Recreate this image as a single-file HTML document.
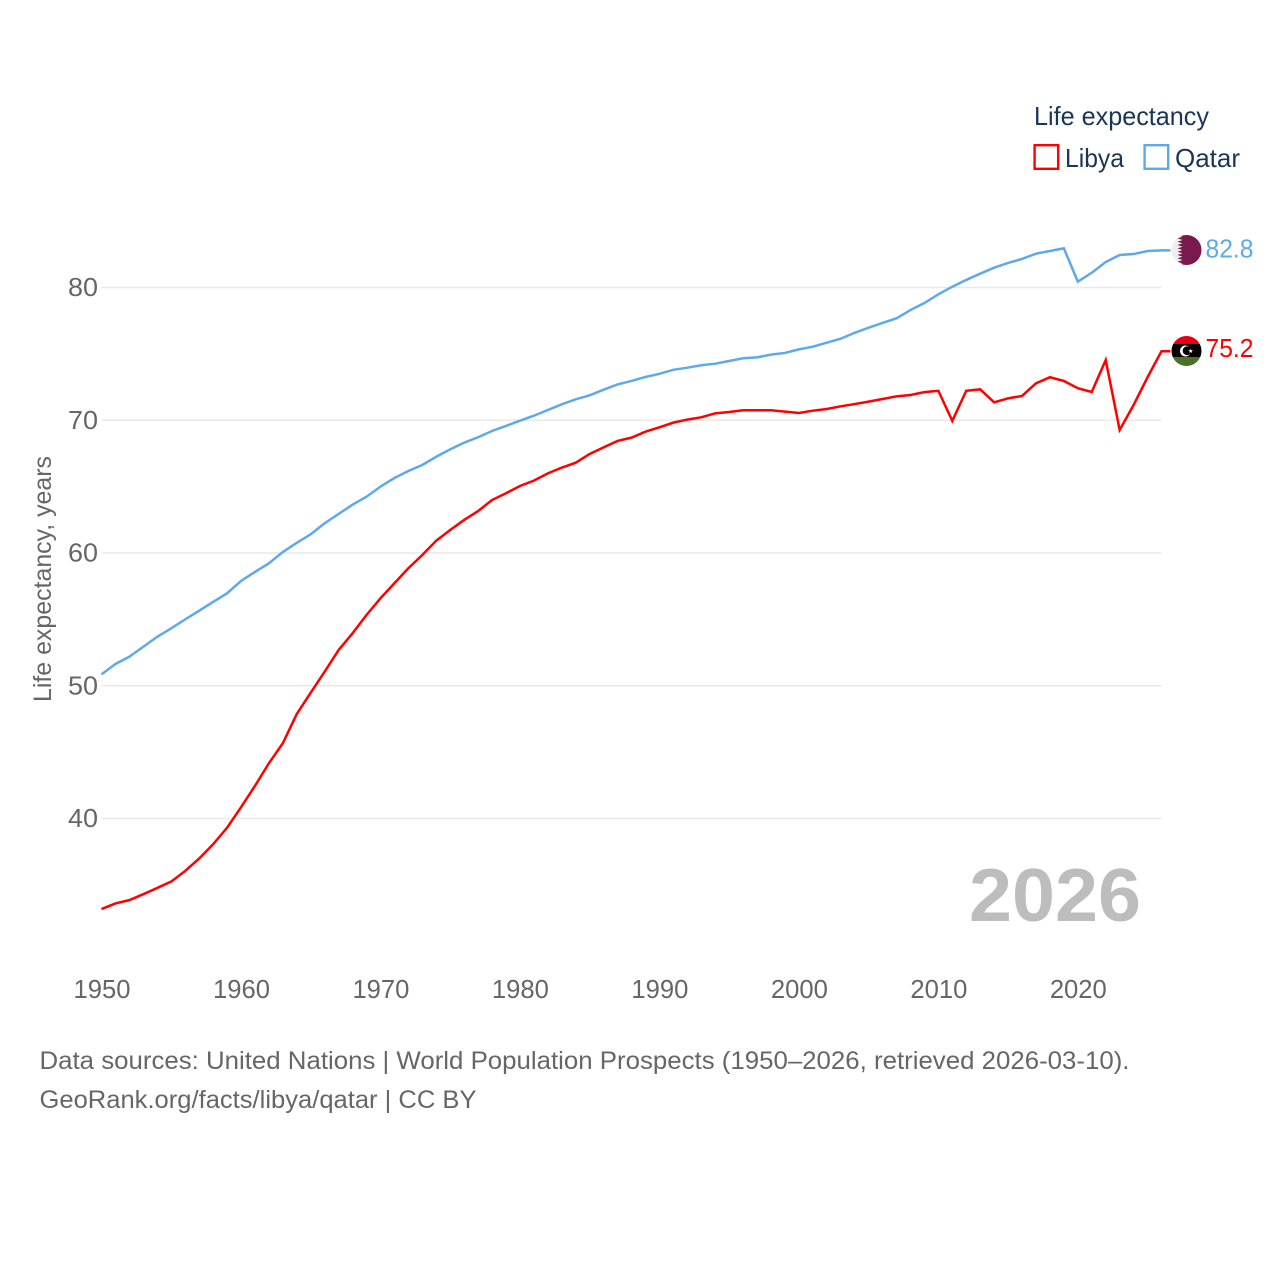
<!DOCTYPE html>
<html lang="en">
<head>
<meta charset="utf-8">
<title>Life expectancy: Libya and Qatar</title>
<style>
html,body{margin:0;padding:0;background:#fff;}
body{width:1280px;height:1280px;overflow:hidden;}
svg{display:block;font-family:"Liberation Sans",sans-serif;}
.tick{font-size:26px;fill:#666;}
</style>
</head>
<body>
<svg id="chart" width="1280" height="1280" viewBox="0 0 1280 1280" xmlns="http://www.w3.org/2000/svg">
  <defs>
    <clipPath id="clip-qatar"><circle cx="1186.5" cy="250" r="15"/></clipPath>
    <clipPath id="clip-libya"><circle cx="1186.5" cy="351" r="15"/></clipPath>
  </defs>
  <g id="grid"></g>
  <g id="y-ticks"></g>
  <g id="x-ticks"></g>
  <text transform="translate(51,702) rotate(-90)" font-size="25" fill="#666" textLength="246" lengthAdjust="spacingAndGlyphs">Life expectancy, years</text>
  <g id="series"></g>

  <text x="969" y="921" font-size="75" font-weight="700" fill="#bdbdbd" textLength="172" lengthAdjust="spacingAndGlyphs">2026</text>

  <g>
    <text x="1034" y="125" font-size="26" fill="#1a3555" textLength="175" lengthAdjust="spacingAndGlyphs">Life expectancy</text>
    <rect x="1034.6" y="145.2" width="23.6" height="23.6" fill="#fff" stroke="#ff0000" stroke-width="2.4"/>
    <text x="1065" y="167" font-size="26" fill="#1a3555" textLength="59" lengthAdjust="spacingAndGlyphs">Libya</text>
    <rect x="1144.6" y="145.2" width="23.6" height="23.6" fill="#fff" stroke="#5ea8ec" stroke-width="2.4"/>
    <text x="1175" y="167" font-size="26" fill="#1a3555" textLength="65" lengthAdjust="spacingAndGlyphs">Qatar</text>
  </g>

  <g clip-path="url(#clip-qatar)">
    <rect x="1171" y="235" width="31" height="30" fill="#eeeeee"/>
    <polygon fill="#7a1a4c" points="1202,235 1177.500,235 1182.500,236.700 1177.500,238.400 1182.500,240 1177.500,241.700 1182.500,243.400 1177.500,245 1182.500,246.700 1177.500,248.400 1182.500,250 1177.500,251.700 1182.500,253.400 1177.500,255 1182.500,256.700 1177.500,258.400 1182.500,260 1177.500,261.700 1182.500,263.400 1177.500,265 1202,265"/>
  </g>
  <g clip-path="url(#clip-libya)">
    <rect x="1171" y="336" width="31" height="8.500" fill="#e70013"/>
    <rect x="1171" y="344" width="31" height="13.500" fill="#000"/>
    <rect x="1171" y="357" width="31" height="10" fill="#4b7029"/>
    <circle cx="1185.500" cy="351" r="5.500" fill="#fff"/>
    <circle cx="1187.200" cy="350.700" r="4.500" fill="#000"/>
    <polygon fill="#fff" points="1190.700,348.600 1191.300,350.300 1193,350.300 1191.700,351.400 1192.200,353 1190.700,352 1189.200,353 1189.700,351.400 1188.400,350.300 1190.100,350.300"/>
  </g>
  <g id="end-labels"></g>

  <text x="39.500" y="1069" font-size="25" fill="#666" textLength="1090" lengthAdjust="spacingAndGlyphs">Data sources: United Nations | World Population Prospects (1950–2026, retrieved 2026-03-10).</text>
  <text x="39.500" y="1108" font-size="25" fill="#666" textLength="437" lengthAdjust="spacingAndGlyphs">GeoRank.org/facts/libya/qatar | CC BY</text>
</svg>
<script>
const years = [1950,1951,1952,1953,1954,1955,1956,1957,1958,1959,1960,1961,1962,1963,1964,1965,1966,1967,1968,1969,1970,1971,1972,1973,1974,1975,1976,1977,1978,1979,1980,1981,1982,1983,1984,1985,1986,1987,1988,1989,1990,1991,1992,1993,1994,1995,1996,1997,1998,1999,2000,2001,2002,2003,2004,2005,2006,2007,2008,2009,2010,2011,2012,2013,2014,2015,2016,2017,2018,2019,2020,2021,2022,2023,2024,2025,2026];
const libya = [33.18,33.6,33.85,34.3,34.77,35.25,36.05,36.98,38.06,39.3,40.84,42.45,44.16,45.67,47.87,49.48,51.06,52.69,53.95,55.33,56.59,57.72,58.85,59.85,60.93,61.73,62.49,63.16,63.99,64.5,65.05,65.45,66.0,66.43,66.8,67.46,67.96,68.44,68.69,69.14,69.47,69.82,70.05,70.22,70.52,70.62,70.75,70.75,70.75,70.65,70.55,70.72,70.85,71.05,71.22,71.4,71.6,71.8,71.9,72.12,72.22,69.95,72.22,72.33,71.35,71.65,71.83,72.78,73.24,72.96,72.41,72.13,74.54,69.27,71.15,73.24,75.2];
const qatar = [50.86,51.64,52.19,52.94,53.69,54.33,55.0,55.65,56.31,56.96,57.89,58.57,59.22,60.07,60.77,61.41,62.24,62.94,63.64,64.24,65.0,65.65,66.18,66.63,67.25,67.81,68.31,68.72,69.19,69.57,69.97,70.34,70.77,71.2,71.58,71.88,72.3,72.7,72.96,73.26,73.5,73.8,73.96,74.14,74.26,74.46,74.67,74.74,74.94,75.07,75.34,75.54,75.84,76.14,76.59,76.97,77.33,77.68,78.3,78.83,79.49,80.06,80.57,81.04,81.49,81.85,82.15,82.55,82.75,82.95,80.44,81.11,81.92,82.45,82.52,82.75,82.8];
const yTickValues = [40,50,60,70,80];
const xTickValues = [1950,1960,1970,1980,1990,2000,2010,2020];

const NS = 'http://www.w3.org/2000/svg';
const X_LEFT = 101.5, X_RIGHT = 1161.5, Y_40 = 818.5, Y_80 = 287.5;
const xScale = function (year) {
  return X_LEFT + (year - years[0]) * (X_RIGHT - X_LEFT) / (years[years.length - 1] - years[0]);
};
const yScale = function (value) {
  return Y_40 - (value - 40) * (Y_40 - Y_80) / 40;
};
function make(tag, attrs) {
  const el = document.createElementNS(NS, tag);
  Object.keys(attrs).forEach(function (k) { el.setAttribute(k, attrs[k]); });
  return el;
}

const gridGroup = document.getElementById('grid');
const yTickGroup = document.getElementById('y-ticks');
yTickValues.forEach(function (v) {
  const line = make('line', {x1: X_LEFT, x2: X_RIGHT, y1: yScale(v), y2: yScale(v), stroke: '#e9e9e9', 'stroke-width': 1.5});
  
  
  gridGroup.appendChild(line);
  const label = make('text', {x: 98, y: yScale(v) + 8.5, 'text-anchor': 'end', class: 'tick', textLength: 30, lengthAdjust: 'spacingAndGlyphs'});
  
  
  label.textContent = v;
  yTickGroup.appendChild(label);
});

const xTickGroup = document.getElementById('x-ticks');
xTickValues.forEach(function (year) {
  const label = make('text', {x: xScale(year) - 28, y: 998, class: 'tick', textLength: 57, lengthAdjust: 'spacingAndGlyphs'});
  
  
  label.textContent = year;
  xTickGroup.appendChild(label);
});

function seriesPath(values) {
  let d = values.map(function (v, i) {
    return (i ? 'L' : 'M') + xScale(years[i]).toFixed(2) + ' ' + yScale(v).toFixed(2);
  }).join(' ');
  d += ' L' + (xScale(years[years.length - 1]) + 9).toFixed(2) + ' ' + yScale(values[values.length - 1]).toFixed(2);
  return d;
}

const seriesGroup = document.getElementById('series');
const qatarLine = make('path', {d: seriesPath(qatar), fill: 'none', stroke: '#5ea8ec', 'stroke-width': 2.5, 'stroke-linejoin': 'miter'});


seriesGroup.appendChild(qatarLine);
const libyaLine = make('path', {d: seriesPath(libya), fill: 'none', stroke: '#ff0000', 'stroke-width': 2.5, 'stroke-linejoin': 'miter'});


seriesGroup.appendChild(libyaLine);

const endGroup = document.getElementById('end-labels');
const qatarEnd = make('text', {x: 1205.5, y: yScale(qatar[qatar.length - 1]) + 7, 'font-size': 26, fill: '#5ea8ec', textLength: 48, lengthAdjust: 'spacingAndGlyphs'});


qatarEnd.textContent = qatar[qatar.length - 1].toFixed(1);
endGroup.appendChild(qatarEnd);
const libyaEnd = make('text', {x: 1205.5, y: yScale(libya[libya.length - 1]) + 6, 'font-size': 26, fill: '#ff0000', textLength: 48, lengthAdjust: 'spacingAndGlyphs'});


libyaEnd.textContent = libya[libya.length - 1].toFixed(1);
endGroup.appendChild(libyaEnd);
</script>
</body>
</html>
